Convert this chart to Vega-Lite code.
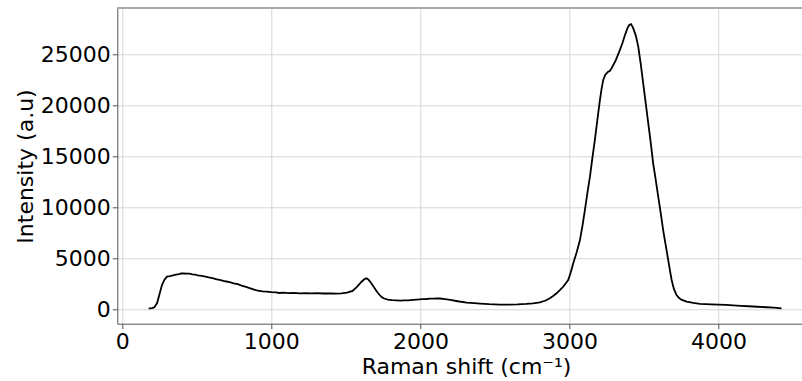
{
  "$schema": "https://vega.github.io/schema/vega-lite/v6.json",
  "autosize": {"type": "none"},
  "padding": {"left": 117.3, "top": 8.3, "right": 0, "bottom": 57.3},
  "width": 684.7,
  "height": 315.4,
  "background": "white",
  "config": {
    "view": {"stroke": null},
    "font": "DejaVu Sans",
    "axis": {
      "labelFont": "DejaVu Sans",
      "titleFont": "DejaVu Sans",
      "labelFontSize": 22,
      "titleFontSize": 22,
      "labelColor": "#000000",
      "titleColor": "#000000",
      "titleFontWeight": "normal",
      "grid": true,
      "gridColor": "#d6d6d6",
      "gridWidth": 1,
      "domainColor": "#555555",
      "tickColor": "#555555",
      "tickSize": 5
    }
  },
  "data": {
    "values": [
      {"shift": 177, "intensity": 100},
      {"shift": 200, "intensity": 120},
      {"shift": 215, "intensity": 200},
      {"shift": 233, "intensity": 590},
      {"shift": 250, "intensity": 1500},
      {"shift": 266, "intensity": 2380},
      {"shift": 283, "intensity": 2900},
      {"shift": 300, "intensity": 3200},
      {"shift": 320, "intensity": 3260},
      {"shift": 340, "intensity": 3330},
      {"shift": 360, "intensity": 3400},
      {"shift": 380, "intensity": 3450},
      {"shift": 395, "intensity": 3510},
      {"shift": 412, "intensity": 3530},
      {"shift": 430, "intensity": 3490},
      {"shift": 450, "intensity": 3500},
      {"shift": 470, "intensity": 3430},
      {"shift": 490, "intensity": 3410},
      {"shift": 505, "intensity": 3330},
      {"shift": 523, "intensity": 3300},
      {"shift": 550, "intensity": 3230},
      {"shift": 580, "intensity": 3130},
      {"shift": 605, "intensity": 3060},
      {"shift": 635, "intensity": 2940},
      {"shift": 660, "intensity": 2870},
      {"shift": 690, "intensity": 2750},
      {"shift": 720, "intensity": 2660},
      {"shift": 747, "intensity": 2550},
      {"shift": 775, "intensity": 2460},
      {"shift": 800, "intensity": 2330},
      {"shift": 830, "intensity": 2200},
      {"shift": 859, "intensity": 2060},
      {"shift": 885, "intensity": 1930},
      {"shift": 910, "intensity": 1820},
      {"shift": 940, "intensity": 1760},
      {"shift": 970, "intensity": 1730},
      {"shift": 1000, "intensity": 1680},
      {"shift": 1030, "intensity": 1650},
      {"shift": 1055, "intensity": 1600},
      {"shift": 1082, "intensity": 1630},
      {"shift": 1115, "intensity": 1590},
      {"shift": 1150, "intensity": 1610},
      {"shift": 1190, "intensity": 1570},
      {"shift": 1230, "intensity": 1590},
      {"shift": 1270, "intensity": 1560},
      {"shift": 1306, "intensity": 1580},
      {"shift": 1350, "intensity": 1550},
      {"shift": 1400, "intensity": 1560},
      {"shift": 1440, "intensity": 1540},
      {"shift": 1470, "intensity": 1570},
      {"shift": 1507, "intensity": 1630},
      {"shift": 1545, "intensity": 1800},
      {"shift": 1574, "intensity": 2200},
      {"shift": 1605, "intensity": 2700},
      {"shift": 1625, "intensity": 2960},
      {"shift": 1637, "intensity": 3040},
      {"shift": 1650, "intensity": 2920},
      {"shift": 1668, "intensity": 2600},
      {"shift": 1686, "intensity": 2220},
      {"shift": 1705, "intensity": 1800},
      {"shift": 1720, "intensity": 1500},
      {"shift": 1740, "intensity": 1200},
      {"shift": 1753, "intensity": 1080},
      {"shift": 1780, "intensity": 960},
      {"shift": 1810, "intensity": 900},
      {"shift": 1840, "intensity": 880},
      {"shift": 1865, "intensity": 860},
      {"shift": 1890, "intensity": 870},
      {"shift": 1920, "intensity": 880},
      {"shift": 1950, "intensity": 920},
      {"shift": 1977, "intensity": 950},
      {"shift": 2010, "intensity": 990},
      {"shift": 2040, "intensity": 1010},
      {"shift": 2065, "intensity": 1040},
      {"shift": 2088, "intensity": 1050},
      {"shift": 2110, "intensity": 1070},
      {"shift": 2131, "intensity": 1060},
      {"shift": 2165, "intensity": 1000},
      {"shift": 2200, "intensity": 930},
      {"shift": 2250, "intensity": 790},
      {"shift": 2310, "intensity": 660},
      {"shift": 2360, "intensity": 600},
      {"shift": 2400, "intensity": 560},
      {"shift": 2460, "intensity": 500},
      {"shift": 2533, "intensity": 460},
      {"shift": 2590, "intensity": 450},
      {"shift": 2650, "intensity": 480},
      {"shift": 2710, "intensity": 530},
      {"shift": 2756, "intensity": 590},
      {"shift": 2801, "intensity": 680},
      {"shift": 2840, "intensity": 860},
      {"shift": 2868, "intensity": 1080},
      {"shift": 2890, "intensity": 1300},
      {"shift": 2913, "intensity": 1570},
      {"shift": 2935, "intensity": 1880},
      {"shift": 2958, "intensity": 2220},
      {"shift": 2975, "intensity": 2550},
      {"shift": 2991, "intensity": 2870},
      {"shift": 3008, "intensity": 3600},
      {"shift": 3025, "intensity": 4510},
      {"shift": 3048, "intensity": 5600},
      {"shift": 3070, "intensity": 6790},
      {"shift": 3087, "intensity": 8200},
      {"shift": 3103, "intensity": 9730},
      {"shift": 3120, "intensity": 11400},
      {"shift": 3137, "intensity": 13000},
      {"shift": 3153, "intensity": 14800},
      {"shift": 3170, "intensity": 16600},
      {"shift": 3187, "intensity": 18600},
      {"shift": 3204, "intensity": 20520},
      {"shift": 3215, "intensity": 21600},
      {"shift": 3226, "intensity": 22480},
      {"shift": 3240, "intensity": 23000},
      {"shift": 3260, "intensity": 23300},
      {"shift": 3270, "intensity": 23350},
      {"shift": 3282, "intensity": 23630},
      {"shift": 3310, "intensity": 24400},
      {"shift": 3338, "intensity": 25420},
      {"shift": 3355, "intensity": 26100},
      {"shift": 3372, "intensity": 26890},
      {"shift": 3390, "intensity": 27600},
      {"shift": 3401, "intensity": 27870},
      {"shift": 3413, "intensity": 27950},
      {"shift": 3427, "intensity": 27550},
      {"shift": 3445, "intensity": 26800},
      {"shift": 3461, "intensity": 25750},
      {"shift": 3478, "intensity": 24000},
      {"shift": 3494, "intensity": 22160},
      {"shift": 3511, "intensity": 20200},
      {"shift": 3528, "intensity": 18240},
      {"shift": 3545, "intensity": 16300},
      {"shift": 3561, "intensity": 14310},
      {"shift": 3578, "intensity": 12700},
      {"shift": 3595, "intensity": 11040},
      {"shift": 3612, "intensity": 9400},
      {"shift": 3628, "intensity": 7770},
      {"shift": 3645, "intensity": 6300},
      {"shift": 3662, "intensity": 4830},
      {"shift": 3675, "intensity": 3700},
      {"shift": 3685, "intensity": 2870},
      {"shift": 3700, "intensity": 2000},
      {"shift": 3718, "intensity": 1400},
      {"shift": 3735, "intensity": 1100},
      {"shift": 3750, "intensity": 950},
      {"shift": 3785, "intensity": 760},
      {"shift": 3830, "intensity": 620},
      {"shift": 3875, "intensity": 540},
      {"shift": 3950, "intensity": 480},
      {"shift": 4000, "intensity": 450},
      {"shift": 4050, "intensity": 430},
      {"shift": 4098, "intensity": 390},
      {"shift": 4150, "intensity": 340},
      {"shift": 4200, "intensity": 300},
      {"shift": 4260, "intensity": 250},
      {"shift": 4322, "intensity": 200},
      {"shift": 4370, "intensity": 160},
      {"shift": 4422, "intensity": 100}
    ]
  },
  "layer": [
    {
      "mark": {"type": "line", "color": "#000000", "strokeWidth": 1.8},
      "encoding": {
        "x": {
          "field": "shift",
          "type": "quantitative",
          "scale": {"domain": [-33.5, 4559.4], "nice": false, "zero": false},
          "axis": {
            "grid": true,
            "values": [0, 1000, 2000, 3000, 4000],
            "title": "Raman shift (cm⁻¹)",
            "titleX": 348.7,
            "titleY": 49.6,
            "titleAlign": "center",
            "titleBaseline": "alphabetic",
            "labelPadding": 3,
            "labelFlush": false,
            "format": "d"
          }
        },
        "y": {
          "field": "intensity",
          "type": "quantitative",
          "scale": {"domain": [-1410, 29500], "nice": false, "zero": false},
          "axis": {
            "grid": true,
            "values": [0, 5000, 10000, 15000, 20000, 25000],
            "title": "Intensity (a.u)",
            "titleX": -84.6,
            "titleY": 157.7,
            "titleAngle": -90,
            "titleAlign": "center",
            "titleBaseline": "alphabetic",
            "labelPadding": 2,
            "labelFlush": false,
            "format": "d"
          }
        }
      }
    },
    {
      "mark": {"type": "rule", "color": "#aaaaaa", "strokeWidth": 1.5},
      "encoding": {
        "y": {
          "datum": 29500,
          "type": "quantitative",
          "axis": {
            "grid": true,
            "values": [0, 5000, 10000, 15000, 20000, 25000],
            "title": "Intensity (a.u)",
            "titleX": -84.6,
            "titleY": 157.7,
            "titleAngle": -90,
            "titleAlign": "center",
            "titleBaseline": "alphabetic",
            "labelPadding": 2,
            "labelFlush": false,
            "format": "d"
          }
        }
      }
    }
  ]
}
